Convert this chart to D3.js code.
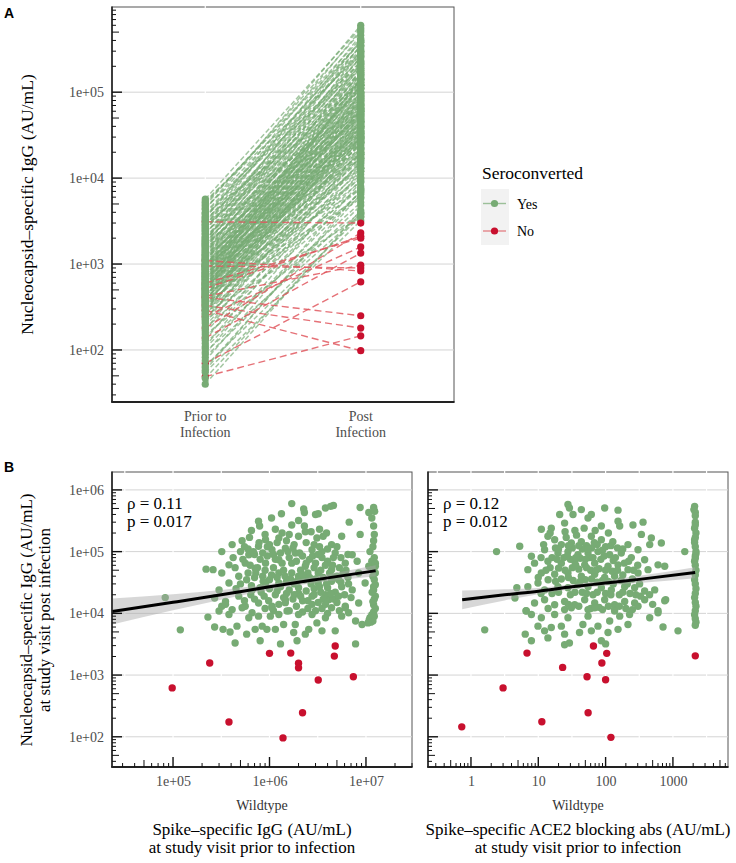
<!DOCTYPE html>
<html lang="en">
<head>
<meta charset="utf-8">
<title>Nucleocapsid IgG before and after infection</title>
<script src="https://cdn.jsdelivr.net/npm/d3@7/dist/d3.min.js"></script>
<style>
  body { margin: 0; background: #fff; }
  text { font-family: "Liberation Serif", "Times New Roman", serif; }
</style>
</head>
<body>
<script>
// ---- data ----
var stages = ["Prior to Infection", "Post Infection"];

// panel A, seroconverted: [prior, post] nucleocapsid IgG (AU/mL)
var seroYes = [
  [40,4.2e3],[47,3.9e3],[55,3.2e3],[58,7.2e3],[62,6.5e3],[65,3.6e3],[75,9.0e3],[82,4.8e3],[90,1.2e4],[95,3.8e3],
  [105,7.0e3],[110,1.6e4],[120,5.2e3],[130,2.2e4],[140,9.5e3],[150,4.0e3],[160,1.3e4],[170,3.0e4],[180,6.8e3],[190,1.8e4],
  [205,4.5e4],[215,8.0e3],[225,2.6e4],[230,1.9e4],[240,1.1e4],[250,5.5e4],[260,1.5e4],[265,6.0e4],[270,3.5e3],[280,3.8e4],
  [290,7.5e3],[292,2.6e4],[300,2.0e4],[310,8.0e4],[312,1.5e4],[320,1.2e4],[330,4.8e4],[335,1.0e4],[340,2.8e4],[350,5.8e3],
  [355,4.0e4],[360,1.7e4],[370,6.5e4],[375,4.5e4],[380,9.0e3],[390,3.3e4],[395,2.2e4],[400,1.4e4],
  [410,1.0e5],[420,4.0e4],[425,3.0e4],[430,2.3e4],[440,6.0e3],[445,1.3e4],[450,7.0e4],[455,2.0e4],[460,1.6e4],[470,3.0e4],
  [475,8.2e4],[480,1.2e5],[490,5.2e4],[495,1.5e5],[500,1.0e4],[510,2.5e4],[515,3.3e4],[520,8.5e4],[530,4.2e4],[535,2.7e4],
  [540,1.9e4],[550,6.3e4],[560,3.5e4],[565,6.0e4],[570,1.4e5],[575,4.6e4],[580,7.5e3],[590,2.9e4],[600,9.5e4],[610,1.7e4],
  [620,5.0e4],[625,8.8e4],[640,2.1e4],[650,1.8e5],[655,4.4e4],[660,3.9e4],[670,3.1e4],[680,7.2e4],[690,2.4e4],[700,1.3e4],
  [705,6.1e4],[710,2.6e4],[720,1.1e5],[730,1.4e5],[740,5.6e4],[750,2.8e4],[760,3.2e4],[770,1.9e4],[780,8.0e4],[790,1.2e5],
  [800,1.6e5],[810,9.8e4],[820,4.5e4],[840,2.2e4],[850,3.8e4],[860,1.3e5],[870,5.4e4],[880,6.5e4],[890,1.2e5],[900,3.6e4],
  [920,9.0e4],[930,2.9e4],[940,1.4e5],[950,2.2e5],[970,7.4e4],[980,1.7e4],[990,3.4e4],
  [1000,5.8e4],[1010,4.0e4],[1030,1.2e5],[1060,3.0e4],[1080,1.7e5],[1100,8.5e4],[1120,5.6e4],[1130,2.0e5],[1150,6.3e4],[1160,4.6e4],
  [1200,1.5e5],[1220,3.3e4],[1240,7.0e4],[1250,1.1e5],[1280,2.6e4],[1300,9.0e4],[1320,2.6e5],[1350,1.0e5],[1380,2.1e5],[1400,5.2e4],
  [1450,1.8e5],[1480,6.6e4],[1500,3.5e4],[1550,1.3e5],[1580,1.1e5],[1600,3.0e5],[1650,7.5e4],[1680,4.8e4],[1700,2.3e5],[1750,4.2e4],
  [1780,1.4e5],[1800,1.1e5],[1850,3.5e5],[1880,2.6e5],[1900,6.0e4],[1950,1.6e5],
  [2000,2.8e5],[2050,7.8e4],[2100,9.0e4],[2200,4.0e5],[2250,1.9e5],[2300,1.4e5],[2400,5.0e4],[2450,3.5e5],[2500,2.1e5],[2600,3.2e5],
  [2650,1.6e5],[2700,1.2e5],[2800,4.6e5],[2850,2.3e5],[2900,7.0e4],[3000,2.5e5],[3100,4.0e5],[3200,1.7e5],[3300,1.3e5],[3400,5.3e5],
  [3500,3.0e5],[3600,3.8e5],[3800,9.5e4],[3900,2.2e5],[4000,2.9e5],[4300,6.0e5],[4400,3.4e5],[4600,1.9e5],[4800,5.0e5],[5000,4.2e5],
  [5200,3.8e5],[5400,2.7e5],[5700,5.6e5]
];
// panel A, not seroconverted
var seroNo = [
  [3100,3000],[950,900],[410,250],[330,180],[290,98],[49,146],[70,620],
  [138,1340],[245,1580],[180,2300],[520,2100],[600,2000],[1100,830],[420,970]
];

// panel B left: [spike IgG prior, nucleocapsid IgG post]
var spikeYes = [
  [1.7e6,6.0e5],[2.26e6,4.9e5],[2.3e6,4.3e5],[3.0e6,4.0e5],[3.2e6,4.1e5],[3.8e6,5.1e5],[4.3e6,5.4e5],[4.6e6,5.6e5],
  [8.7e6,5.2e5],[1.07e7,4.3e5],[1.2e7,5.2e5],[1.23e7,4.5e5],[6.7e6,3.0e5],[7.7e5,3.1e5],[7.9e5,2.6e5],[1.05e6,3.5e5],
  [1.33e6,4.1e5],[1.7e6,2.7e5],[2.3e6,2.6e5],[2.35e6,2.1e5],[1.25e6,1.66e5],[1.15e6,2.3e5],[2.0e6,1.77e5],[3.1e6,1.66e5],
  [3.6e6,1.77e5],[4.4e6,1.3e5],[5.6e6,1.77e5],[8.7e6,1.9e5],[1.2e7,2.6e5],[1.22e7,1.9e5],[1.1e7,1.0e5],[7.2e6,8.9e4],
  [4.1e5,1.3e5],[3.2e5,1.0e5],[5.0e5,1.0e5],[5.6e5,6.5e4],[2.2e5,5.2e4],[2.6e5,5.1e4],[3.2e5,4.5e4],[3.8e5,6.1e4],
  [6.1e5,8.9e4],[7.7e5,1.22e5],[9.1e5,1.56e5],[1.06e6,1.07e5],[1.46e6,1.14e5],[1.85e6,9.5e4],[2.76e6,1.07e5],[3.5e6,1.0e5],
  [4.8e6,9.5e4],[6.1e6,6.5e4],[8.1e6,7.0e4],[1.07e7,5.8e4],[1.25e7,5.8e4],[1.25e7,4.5e4],[8.4e6,4.5e4],[4.4e6,5.1e4],
  [3.2e6,4.5e4],[2.35e6,5.8e4],[1.7e6,6.5e4],[1.25e6,7.4e4],[9.1e5,6.5e4],[7.1e5,5.4e4],[4.8e5,4.0e4],[3.8e5,3.1e4],
  [3.0e5,2.4e4],[8.3e4,1.8e4],[2.7e5,1.77e4],[3.5e5,1.56e4],[4.8e5,1.9e4],[6.6e5,2.4e4],[9.1e5,3.1e4],[1.25e6,4.5e4],
  [2.0e6,4.0e4],[3.2e6,3.1e4],[5.2e6,3.5e4],[7.2e6,2.4e4],[9.8e6,3.1e4],[1.2e7,2.4e4],[1.25e7,1.9e4],[1.2e7,1.38e4],
  [8.4e6,1.47e4],[6.1e6,1.3e4],[4.1e6,1.66e4],[2.76e6,1.9e4],[2.0e6,2.1e4],[1.46e6,1.66e4],[1.06e6,1.3e4],[7.7e5,1.47e4],
  [5.6e5,1.3e4],[4.1e5,1.15e4],[3.2e5,1.3e4],
  [6.0e5,1.1e5],[7.0e5,9.0e4],[8.0e5,7.5e4],[9.5e5,8.5e4],[1.1e6,9.0e4],[1.3e6,9.5e4],[1.6e6,8.0e4],[1.9e6,7.0e4],
  [2.2e6,8.5e4],[2.6e6,7.5e4],[3.0e6,6.5e4],[3.5e6,8.0e4],[4.0e6,7.0e4],[4.5e6,6.0e4],[5.5e6,8.0e4],[6.5e6,9.0e4],
  [7.5e5,5.5e4],[9.0e5,5.0e4],[1.1e6,5.5e4],[1.4e6,5.0e4],[1.7e6,4.5e4],[2.1e6,5.0e4],[2.5e6,4.5e4],[2.9e6,5.5e4],
  [3.4e6,5.0e4],[4.2e6,4.5e4],[5.0e6,4.0e4],[6.0e5,4.5e4],[7.0e5,3.8e4],[8.5e5,4.0e4],[1.0e6,3.5e4],[1.2e6,3.8e4],
  [1.5e6,3.3e4],[1.8e6,3.0e4],[2.3e6,3.5e4],[2.7e6,3.0e4],[3.6e6,3.8e4],[4.4e6,3.3e4],[5.8e6,4.5e4],[6.6e6,3.0e4],
  [5.0e5,3.0e4],[6.5e5,2.8e4],[8.0e5,2.6e4],[1.0e6,2.5e4],[1.3e6,2.7e4],[1.6e6,2.4e4],[2.0e6,2.6e4],[2.4e6,2.3e4],
  [2.9e6,2.5e4],[3.4e6,2.2e4],[4.0e6,2.6e4],[4.8e6,2.2e4],[5.6e6,2.7e4],[6.4e5,2.0e4],[8.8e5,1.9e4],[1.15e6,2.0e4],
  [1.4e6,1.8e4],[1.75e6,1.7e4],[2.2e6,1.6e4],[3.2e6,1.5e4],[3.8e6,2.0e4],[4.6e6,1.7e4],[5.2e6,1.9e4],[5.5e5,1.6e4],
  [9.0e5,1.2e4],[1.25e6,1.4e4],[1.9e6,1.3e4],[2.5e6,1.2e4],[3.5e6,1.2e4],[4.5e5,2.5e4],[4.4e5,5.5e4],[5.3e5,7.5e4],
  [6.3e5,6.0e4],[4.2e5,8.0e4],[5.2e5,1.5e5],[6.2e5,1.7e5],[7.8e5,1.4e5],[9.5e5,1.2e5],[1.2e6,1.4e5],[1.5e6,1.5e5],
  [1.8e6,1.3e5],[2.4e6,1.4e5],[2.9e6,1.3e5],[3.3e6,1.2e5],[4.0e6,1.1e5],[5.0e6,1.2e5],[1.35e6,2.0e5],[1.6e6,1.9e5],
  [2.7e6,2.1e5],[3.3e6,2.3e5],[3.9e6,2.0e5],[9.0e5,1.9e5],[2.0e6,3.2e5],[6.5e5,2.2e5],
  [5.5e5,1.2e5],[6.8e5,1.0e5],[8.5e5,9.5e4],[1.0e6,1.3e5],[1.15e6,7.5e4],[1.35e6,6.5e4],[1.55e6,1.0e5],[1.75e6,1.15e5],
  [2.05e6,9.5e4],[2.4e6,6.5e4],[2.8e6,8.5e4],[3.2e6,9.0e4],[3.8e6,6.0e4],[4.6e6,8.0e4],[5.3e6,5.5e4],[6.2e6,5.0e4],
  [5.8e5,3.5e4],[7.2e5,4.5e4],[8.6e5,3.3e4],[1.05e6,4.2e4],[1.25e6,3.1e4],[1.45e6,4.0e4],[1.65e6,3.6e4],[1.95e6,3.4e4],
  [2.2e6,4.2e4],[2.6e6,3.8e4],[3.0e6,3.6e4],[3.3e6,2.7e4],[3.9e6,3.0e4],[4.6e6,3.9e4],[5.5e6,3.2e4],[6.5e6,3.8e4],
  [7.0e5,1.7e4],[8.2e5,2.2e4],[9.8e5,1.6e4],[1.2e6,2.3e4],[1.5e6,2.1e4],[1.8e6,2.0e4],[2.1e6,1.9e4],[2.5e6,1.6e4],
  [2.9e6,2.0e4],[3.6e6,1.7e4],[4.3e6,2.1e4],[5.0e6,1.5e4],[6.0e6,2.0e4],[7.0e6,1.8e4],
  [1.1e6,1.1e4],[1.6e6,1.1e4],[2.2e6,1.05e4],[3.0e6,1.1e4],[4.0e6,1.0e4],[5.3e6,1.1e4],
  [1.15e7,3.5e5],[1.2e7,1.5e5],[1.18e7,1.2e5],[1.22e7,8.0e4],[1.15e7,7.0e4],[1.25e7,6.5e4],[1.2e7,5.0e4],[1.18e7,4.0e4],
  [1.22e7,3.5e4],[1.25e7,2.9e4],[1.2e7,2.7e4],[1.16e7,2.2e4],[1.22e7,1.7e4],[1.18e7,1.55e4],[1.25e7,1.2e4],[1.2e7,1.05e4],
  [1.15e7,9.5e3],[1.1e7,8.5e3],[1.08e7,7.8e3],[1.12e7,7.2e3],[1.18e7,7.5e3],[1.05e7,7.0e3],[1.22e7,9.0e3],
  [2.3e5,8.7e3],[1.19e5,5.4e3],[2.7e5,6.0e3],[3.0e5,1.09e4],[3.5e5,1.4e4],[3.8e5,9.6e3],[3.3e5,5.5e3],[3.9e5,5.0e3],
  [4.6e5,6.2e3],[4.4e5,3.3e3],[5.8e5,4.6e3],[6.6e5,1.02e4],[7.7e5,9.0e3],[7.1e5,5.5e3],[8.4e5,6.2e3],[8.0e5,3.6e3],
  [9.4e5,5.5e3],[1.02e6,9.0e3],[1.15e6,5.5e3],[1.06e6,1.23e4],[1.3e6,3.2e3],[1.4e6,6.6e3],[1.52e6,1.09e4],[1.78e6,4.9e3],
  [1.85e6,6.6e3],[1.93e6,3.6e3],[2.0e6,9.6e3],[2.35e6,4.6e3],[2.55e6,5.5e3],[2.76e6,9.6e3],[3.1e6,7.0e3],[3.5e6,5.2e3],
  [3.8e6,8.5e3],[4.4e6,1.23e4],[4.8e6,5.2e3],[5.6e6,9.0e3],[6.1e6,1.23e4],[6.6e6,1.02e4],[7.8e6,7.5e3],[7.8e6,3.2e3],
  [9.1e6,6.6e3],[5.2e5,1.23e4],[6.1e5,8.5e3],[1.25e6,9.6e3],[2.76e6,1.4e4],[3.8e6,1.4e4],[1.46e6,1.49e4]
];
var spikeNo = [
  [1.0e6,2250],[1.66e6,2270],[4.8e6,2950],[4.7e6,2030],[2.4e5,1570],[2.0e6,1550],[2.0e6,1310],
  [9.8e4,620],[3.2e6,830],[7.4e6,940],[2.2e6,245],[3.8e5,174],[1.38e6,96]
];

// panel B right: [ACE2 blocking abs prior, nucleocapsid IgG post]
var aceYes = [
  [2.4,1.0e5],[5.3,1.22e5],[7.9,8.4e4],[7.0,5.1e4],[11.1,2.3e5],[15.6,2.4e5],[20.8,4.0e5],[24.6,2.9e5],
  [27.6,5.8e5],[29,5.1e5],[32.8,4.0e5],[43.6,4.8e5],[61.4,4.0e5],[54.8,3.5e5],[96.9,5.1e5],[153,4.7e5],
  [153,3.1e5],[162,2.6e5],[86.5,2.6e5],[255,2.7e5],[360,3.0e5],[340,1.9e5],[478,1.66e5],[673,1.38e5],
  [452,1.3e5],[303,1.07e5],[1500,1.0e5],[755,5.8e4],[601,6.1e4],[780,1.66e4],
  [13.9,1.77e5],[17.5,1.56e5],[22,1.3e5],[31,1.38e5],[43.6,1.45e5],[61.4,1.77e5],[86.5,1.56e5],[128,1.45e5],
  [215,1.3e5],[12.4,1.07e5],[19.6,9.5e4],[27.6,1.0e5],[38.9,8.9e4],[54.8,9.5e4],[77,1.0e5],[115,8.9e4],
  [171,9.5e4],[241,8.0e4],[380,7.4e4],[8.8,6.5e4],[13.9,7.0e4],[22,6.5e4],[34.7,7.0e4],[48.9,6.1e4],
  [68.8,6.5e4],[108.6,5.8e4],[153,6.1e4],[215,5.1e4],[303,4.5e4],[427,5.1e4],[11.1,4.5e4],[17.5,4.3e4],
  [27.6,4.5e4],[43.6,4.0e4],[68.8,4.3e4],[96.9,3.8e4],[136,4.0e4],[4.8,2.6e4],[7.0,2.7e4],[9.9,3.1e4],
  [12.4,2.4e4],[19.6,2.7e4],[27.6,2.6e4],[38.9,2.9e4],[54.8,2.7e4],[86.5,2.6e4],[121.6,2.4e4],[192,2.7e4],
  [270,2.6e4],[380,2.3e4],[536,2.4e4],[4.5,1.77e4],[8.8,1.47e4],[12.4,1.66e4],[17.5,1.38e4],[24.6,1.56e4],
  [34.7,1.38e4],[48.9,1.66e4],[68.8,1.47e4],[96.9,1.66e4],[136,1.38e4],[192,1.56e4],[270,1.47e4],[380,1.66e4],
  [6.6,1.1e4],[24.6,1.15e4],[54.8,1.15e4],[136,1.15e4],[601,1.1e4],
  [15,2.0e5],[25,2.1e5],[35,2.2e5],[48,2.4e5],[70,2.2e5],[110,2.0e5],[26,1.7e5],[37,1.85e5],
  [52,1.25e5],[75,1.3e5],[100,1.2e5],[150,1.15e5],[18,1.15e5],[32,1.15e5],[45,1.1e5],[62,1.15e5],
  [16,8.0e4],[24,8.0e4],[30,7.5e4],[42,7.8e4],[58,8.0e4],[85,7.5e4],[130,7.2e4],[190,6.5e4],
  [15,5.5e4],[20,5.4e4],[32,5.5e4],[40,5.2e4],[60,5.0e4],[80,5.3e4],[125,4.8e4],[180,4.2e4],
  [14,3.5e4],[22,3.6e4],[33,3.4e4],[50,3.5e4],[75,3.2e4],[110,3.3e4],[170,3.4e4],[250,3.6e4],
  [16,2.1e4],[30,2.0e4],[45,2.2e4],[65,2.0e4],[100,2.1e4],[160,2.0e4],[230,2.1e4],[330,1.9e4],
  [40,1.3e4],[80,1.25e4],[110,1.3e4],[200,1.2e4],[500,1.4e4],
  [12,1.3e5],[20,1.1e5],[28,1.25e5],[40,1.25e5],[55,1.1e5],[68,1.4e5],[90,1.05e5],[120,1.25e5],[180,1.1e5],
  [11,8.0e4],[19,7.5e4],[27,8.5e4],[36,8.0e4],[50,7.5e4],[65,8.0e4],[95,8.5e4],[140,8.0e4],[220,7.0e4],[300,6.0e4],
  [13,5.0e4],[25,5.0e4],[36,6.0e4],[52,5.5e4],[72,5.0e4],[100,5.0e4],[150,5.0e4],[260,5.0e4],
  [10,3.8e4],[18,3.3e4],[28,3.8e4],[42,3.3e4],[62,3.6e4],[90,3.4e4],[130,3.0e4],[210,3.0e4],[320,3.0e4],
  [11,2.1e4],[20,2.2e4],[35,2.2e4],[52,2.1e4],[75,2.2e4],[120,2.0e4],[180,2.2e4],[280,2.0e4],[450,2.0e4],
  [14,1.2e4],[28,1.4e4],[60,1.2e4],[90,1.15e4],[160,1.3e4],[250,1.15e4],
  [1.6,5.4e3],[6.6,1.09e4],[7.9,9.6e3],[6.4,4.6e3],[7.9,3.6e3],[9.9,6.2e3],[11.1,8.5e3],[12.4,5.2e3],
  [13.9,4.0e3],[15.6,5.9e3],[17.5,9.6e3],[22,6.2e3],[24.6,4.6e3],[24.6,3.1e3],[29,3.3e3],[27.6,8.5e3],
  [31,1.23e4],[41,4.9e3],[46,6.6e3],[54.8,9.0e3],[61.4,5.2e3],[68.8,1.23e4],[77,6.2e3],[86.5,3.6e3],
  [100,3.2e3],[108.6,4.9e3],[115,7.5e3],[136,1.09e4],[153,5.5e3],[162,9.0e3],[215,6.6e3],[227,9.6e3],
  [303,1.3e4],[452,8.5e3],[601,1.02e4],[713,6.0e3],[755,1.6e4],[1190,5.2e3],
  [2100,5.4e5],[2050,4.8e5],[2150,4.3e5],[2150,3.0e5],[2100,2.4e5],[2200,2.0e5],[2150,1.7e5],[2100,1.4e5],
  [2150,1.2e5],[2200,1.0e5],[2150,8.5e4],[2100,7.0e4],[2150,6.0e4],[2200,5.0e4],[2150,4.2e4],[2100,3.5e4],
  [2150,3.0e4],[2200,2.5e4],[2150,2.1e4],[2100,1.8e4],[2150,1.5e4],[2200,1.3e4],[2150,1.1e4],[2100,9.5e3],
  [2150,8.2e3],[2200,7.2e3],[2150,6.4e3],[2150,3.8e5],[2150,2.7e5],[2100,1.55e5],[2200,9.2e4],[2150,7.8e4]
];
var aceNo = [
  [66,2950],[6.8,2270],[104,2250],[88,1570],[23,1330],[2150,2050],[53,940],
  [100,840],[3.0,620],[55,245],[11.3,175],[0.73,145],[120,98]
];

// fitted lines with confidence band
var fitSpikeX  = [2.34e4, 1e5, 3.16e5, 1e6, 3.16e6, 1.26e7];
var fitSpikeY  = [1.07e4, 1.51e4, 2.0e4, 2.69e4, 3.55e4, 4.9e4];
var fitSpikeLo = [6.6e3, 1.12e4, 1.66e4, 2.4e4, 3.16e4, 4.0e4];
var fitSpikeHi = [1.74e4, 2.04e4, 2.4e4, 3.0e4, 4.0e4, 6.0e4];
var fitAceX  = [0.74, 3.16, 10, 31.6, 100, 316, 2140];
var fitAceY  = [1.66e4, 2.0e4, 2.29e4, 2.69e4, 3.09e4, 3.55e4, 4.57e4];
var fitAceLo = [1.17e4, 1.62e4, 2.04e4, 2.45e4, 2.79e4, 3.09e4, 3.72e4];
var fitAceHi = [2.34e4, 2.45e4, 2.57e4, 2.95e4, 3.43e4, 4.07e4, 5.6e4];

var statsSpike = ["\u03c1 = 0.11", "p = 0.017"];
var statsAce = ["\u03c1 = 0.12", "p = 0.012"];

var legendKeys = ["Yes", "No"];

// ---- drawing ----
var green = "#77ab74", red = "#c8102e", tickGrey = "#4d4d4d";

var svg = d3.select("body").append("svg").attr("width", 736).attr("height", 863);

function fmtExp(d) {
  var e = Math.round(Math.log10(d));
  return "1e+" + (e < 10 ? "0" + e : e);
}

// panel background + grid + axis lines
function frame(box, yScale, yGrid, xWhite) {
  svg.append("rect")
    .attr("x", box.x0).attr("y", box.y0)
    .attr("width", box.x1 - box.x0).attr("height", box.y1 - box.y0)
    .attr("fill", "#fff").attr("stroke", "#555").attr("stroke-width", 1);
  svg.append("g").selectAll("line").data(yGrid).enter().append("line")
    .attr("x1", box.x0).attr("x2", box.x1)
    .attr("y1", d => yScale(d)).attr("y2", d => yScale(d))
    .attr("stroke", "#d4d4d4").attr("stroke-width", 1);
  svg.append("g").selectAll("line").data(xWhite).enter().append("line")
    .attr("x1", d => d).attr("x2", d => d)
    .attr("y1", box.y0 - 1).attr("y2", box.y1)
    .attr("stroke", "#fff").attr("stroke-width", 1.2);
}

function axisLines(box) {
  svg.append("line").attr("x1", box.x0).attr("x2", box.x0).attr("y1", box.y0 - 0.5).attr("y2", box.y1)
    .attr("stroke", "#222").attr("stroke-width", 1.6);
  svg.append("line").attr("x1", box.x0 - 0.8).attr("x2", box.x1 + 0.5).attr("y1", box.y1).attr("y2", box.y1)
    .attr("stroke", "#222").attr("stroke-width", 2);
}

// annotation_logticks style marks
function logTicks(scale, side, pos) {
  var dom = scale.domain(), vals = [];
  var k0 = Math.floor(Math.log10(dom[0])), k1 = Math.ceil(Math.log10(dom[1]));
  for (var k = k0; k <= k1; k++) {
    for (var m = 1; m < 10; m++) {
      var v = m * Math.pow(10, k);
      if (v >= dom[0] && v <= dom[1]) vals.push({ v: v, len: m === 1 ? 10 : (m === 5 ? 7 : 4) });
    }
  }
  var g = svg.append("g");
  g.selectAll("line").data(vals).enter().append("line")
    .attr("x1", d => side === "left" ? pos : scale(d.v))
    .attr("x2", d => side === "left" ? pos + d.len : scale(d.v))
    .attr("y1", d => side === "left" ? scale(d.v) : pos)
    .attr("y2", d => side === "left" ? scale(d.v) : pos - d.len)
    .attr("stroke", "#111").attr("stroke-width", d => d.len === 10 ? 1.4 : 1);
}

function labelAxis(axis, transform) {
  var g = svg.append("g").attr("transform", transform).call(axis);
  g.select(".domain").remove();
  g.selectAll(".tick line").remove();
  g.selectAll("text").attr("fill", tickGrey)
    .style("font-family", "'Liberation Serif', serif").style("font-size", "14px");
  return g;
}

// ================= Panel A =================
var boxA = { x0: 112, x1: 454, y0: 7, y1: 402 };
var xA = d3.scalePoint().domain(stages).range([boxA.x0, boxA.x1]).padding(0.6);
var yA = d3.scaleLog().domain([24.8, 9.8e5]).range([boxA.y1, boxA.y0]);
var decadesA = [1e2, 1e3, 1e4, 1e5];

frame(boxA, yA, decadesA, stages.map(s => xA(s)));

var lineA = d3.line().x(d => d[0]).y(d => d[1]);
var gA = svg.append("g");
gA.selectAll("path.yes").data(seroYes).enter().append("path")
  .attr("class", "yes")
  .attr("d", d => lineA([[xA(stages[0]), yA(d[0])], [xA(stages[1]), yA(d[1])]]))
  .attr("fill", "none").attr("stroke", green).attr("stroke-opacity", 0.68)
  .attr("stroke-width", 1.5).attr("stroke-dasharray", "5,2.5");
gA.selectAll("path.no").data(seroNo).enter().append("path")
  .attr("class", "no")
  .attr("d", d => lineA([[xA(stages[0]), yA(d[0])], [xA(stages[1]), yA(d[1])]]))
  .attr("fill", "none").attr("stroke", "#e0585f").attr("stroke-opacity", 0.85)
  .attr("stroke-width", 1.4).attr("stroke-dasharray", "7,4");

// prior column: red underneath green; post column: red on top
gA.append("g").selectAll("circle").data(seroNo).enter().append("circle")
  .attr("cx", xA(stages[0])).attr("cy", d => yA(d[0])).attr("r", 3.6).attr("fill", red);
[0, 1].forEach(function (i) {
  gA.append("g").selectAll("circle").data(seroYes).enter().append("circle")
    .attr("cx", xA(stages[i])).attr("cy", d => yA(d[i])).attr("r", 3.6).attr("fill", green);
});
gA.append("g").selectAll("circle").data(seroNo).enter().append("circle")
  .attr("cx", xA(stages[1])).attr("cy", d => yA(d[1])).attr("r", 3.6).attr("fill", red);

axisLines(boxA);
logTicks(yA, "left", boxA.x0);
labelAxis(d3.axisLeft(yA).tickValues(decadesA).tickFormat(fmtExp).tickSize(0).tickPadding(8),
  "translate(" + boxA.x0 + ",0)");

// x labels (two lines)
var xlab = svg.append("g");
stages.forEach(function (s) {
  var words = s === stages[0] ? ["Prior to", "Infection"] : ["Post", "Infection"];
  words.forEach(function (w, j) {
    xlab.append("text").attr("x", xA(s)).attr("y", 421 + j * 16)
      .attr("text-anchor", "middle").attr("fill", tickGrey).style("font-size", "14px").text(w);
  });
});

svg.append("text").attr("transform", "translate(33," + (boxA.y0 + boxA.y1) / 2 + ") rotate(-90)")
  .attr("text-anchor", "middle").style("font-size", "17.5px").attr("fill", "#000")
  .text("Nucleocapsid\u2013specific IgG (AU/mL)");

svg.append("text").attr("x", 4).attr("y", 18)
  .style("font-family", "'Liberation Sans', Arial, sans-serif").style("font-weight", "bold")
  .style("font-size", "14px").text("A");

// legend
var lg = svg.append("g");
lg.append("text").attr("x", 482).attr("y", 179).style("font-size", "17.5px").text("Seroconverted");
lg.append("rect").attr("x", 481).attr("y", 189).attr("width", 28).attr("height", 56).attr("fill", "#f2f2f2");
legendKeys.forEach(function (k, i) {
  var cy = 203.5 + i * 27.5, col = i === 0 ? green : red;
  lg.append("line").attr("x1", 483).attr("x2", 506).attr("y1", cy).attr("y2", cy)
    .attr("stroke", i === 0 ? green : "#e0585f").attr("stroke-opacity", 0.7).attr("stroke-width", 1.4);
  lg.append("circle").attr("cx", 494.5).attr("cy", cy).attr("r", 3.6).attr("fill", col);
  lg.append("text").attr("x", 517).attr("y", cy + 5).style("font-size", "14px").text(k);
});

// ================= Panel B =================
var yB = d3.scaleLog().domain([32.4, 1.95e6]).range([767, 472]);
var decadesB = [1e2, 1e3, 1e4, 1e5, 1e6];

function scatterPanel(box, xScale, yes, no, fx, fy, flo, fhi, stats, xTicks, xFmt, title) {
  var xWhite = [];
  xScale.ticks().forEach(function (v) {
    var e = Math.log10(v);
    if (Math.abs(e - Math.round(e)) < 1e-9) { xWhite.push(xScale(v)); }
  });
  var dom = xScale.domain();
  var half = [];
  for (var k = Math.floor(Math.log10(dom[0])); k <= Math.ceil(Math.log10(dom[1])); k++) {
    var hv = Math.pow(10, k + 0.5);
    if (hv > dom[0] && hv < dom[1]) half.push(xScale(hv));
  }
  frame(box, yB, decadesB, xWhite.concat(half));

  var g = svg.append("g");
  g.append("g").selectAll("circle").data(yes).enter().append("circle")
    .attr("cx", d => xScale(d[0])).attr("cy", d => yB(d[1])).attr("r", 3.7).attr("fill", green);
  g.append("g").selectAll("circle").data(no).enter().append("circle")
    .attr("cx", d => xScale(d[0])).attr("cy", d => yB(d[1])).attr("r", 3.7).attr("fill", red);

  var band = fx.map((v, i) => ({ x: v, y: fy[i], lo: flo[i], hi: fhi[i] }));
  g.append("path").datum(band)
    .attr("d", d3.area().curve(d3.curveMonotoneX).x(d => xScale(d.x)).y0(d => yB(d.lo)).y1(d => yB(d.hi)))
    .attr("fill", "#a6a6a6").attr("fill-opacity", 0.45);
  g.append("path").datum(band)
    .attr("d", d3.line().curve(d3.curveMonotoneX).x(d => xScale(d.x)).y(d => yB(d.y)))
    .attr("fill", "none").attr("stroke", "#000").attr("stroke-width", 3);

  stats.forEach(function (s, i) {
    svg.append("text").attr("x", box.x0 + 15).attr("y", 509 + i * 18)
      .style("font-size", "17px").text(s);
  });

  axisLines(box);
  logTicks(yB, "left", box.x0);
  logTicks(xScale, "bottom", box.y1);

  labelAxis(d3.axisBottom(xScale).tickValues(xTicks).tickFormat(xFmt).tickSize(0).tickPadding(9),
    "translate(0," + box.y1 + ")");

  var cx = (box.x0 + box.x1) / 2;
  svg.append("text").attr("x", cx).attr("y", 810).attr("text-anchor", "middle")
    .attr("fill", "#333").style("font-size", "14px").text("Wildtype");
  title.forEach(function (t, i) {
    svg.append("text").attr("x", box.tx).attr("y", 835 + i * 18).attr("text-anchor", "middle")
      .style("font-size", "17px").text(t);
  });
}

var boxBL = { x0: 112, x1: 412, y0: 472, y1: 767, tx: 252 };
var xBL = d3.scaleLog().domain([2.33e4, 3.0e7]).range([boxBL.x0, boxBL.x1]);
scatterPanel(boxBL, xBL, spikeYes, spikeNo, fitSpikeX, fitSpikeY, fitSpikeLo, fitSpikeHi, statsSpike,
  [1e5, 1e6, 1e7], fmtExp, ["Spike\u2013specific IgG (AU/mL)", "at study visit prior to infection"]);
labelAxis(d3.axisLeft(yB).tickValues(decadesB).tickFormat(fmtExp).tickSize(0).tickPadding(8),
  "translate(" + boxBL.x0 + ",0)");

var boxBR = { x0: 428, x1: 728, y0: 472, y1: 767, tx: 578 };
var xBR = d3.scaleLog().domain([0.23, 6580]).range([boxBR.x0, boxBR.x1]);
scatterPanel(boxBR, xBR, aceYes, aceNo, fitAceX, fitAceY, fitAceLo, fitAceHi, statsAce,
  [1, 10, 100, 1000], d3.format("d"), ["Spike\u2013specific ACE2 blocking abs (AU/mL)", "at study visit prior to infection"]);

var yt = svg.append("text").attr("transform", "translate(0," + 620 + ") rotate(-90)")
  .attr("text-anchor", "middle").style("font-size", "17px");
yt.append("tspan").attr("x", 0).attr("y", 32).text("Nucleocapsid\u2013specific IgG (AU/mL)");
yt.append("tspan").attr("x", 0).attr("y", 50).text("at study visit post infection");

svg.append("text").attr("x", 4).attr("y", 472)
  .style("font-family", "'Liberation Sans', Arial, sans-serif").style("font-weight", "bold")
  .style("font-size", "14px").text("B");
</script>
</body>
</html>
